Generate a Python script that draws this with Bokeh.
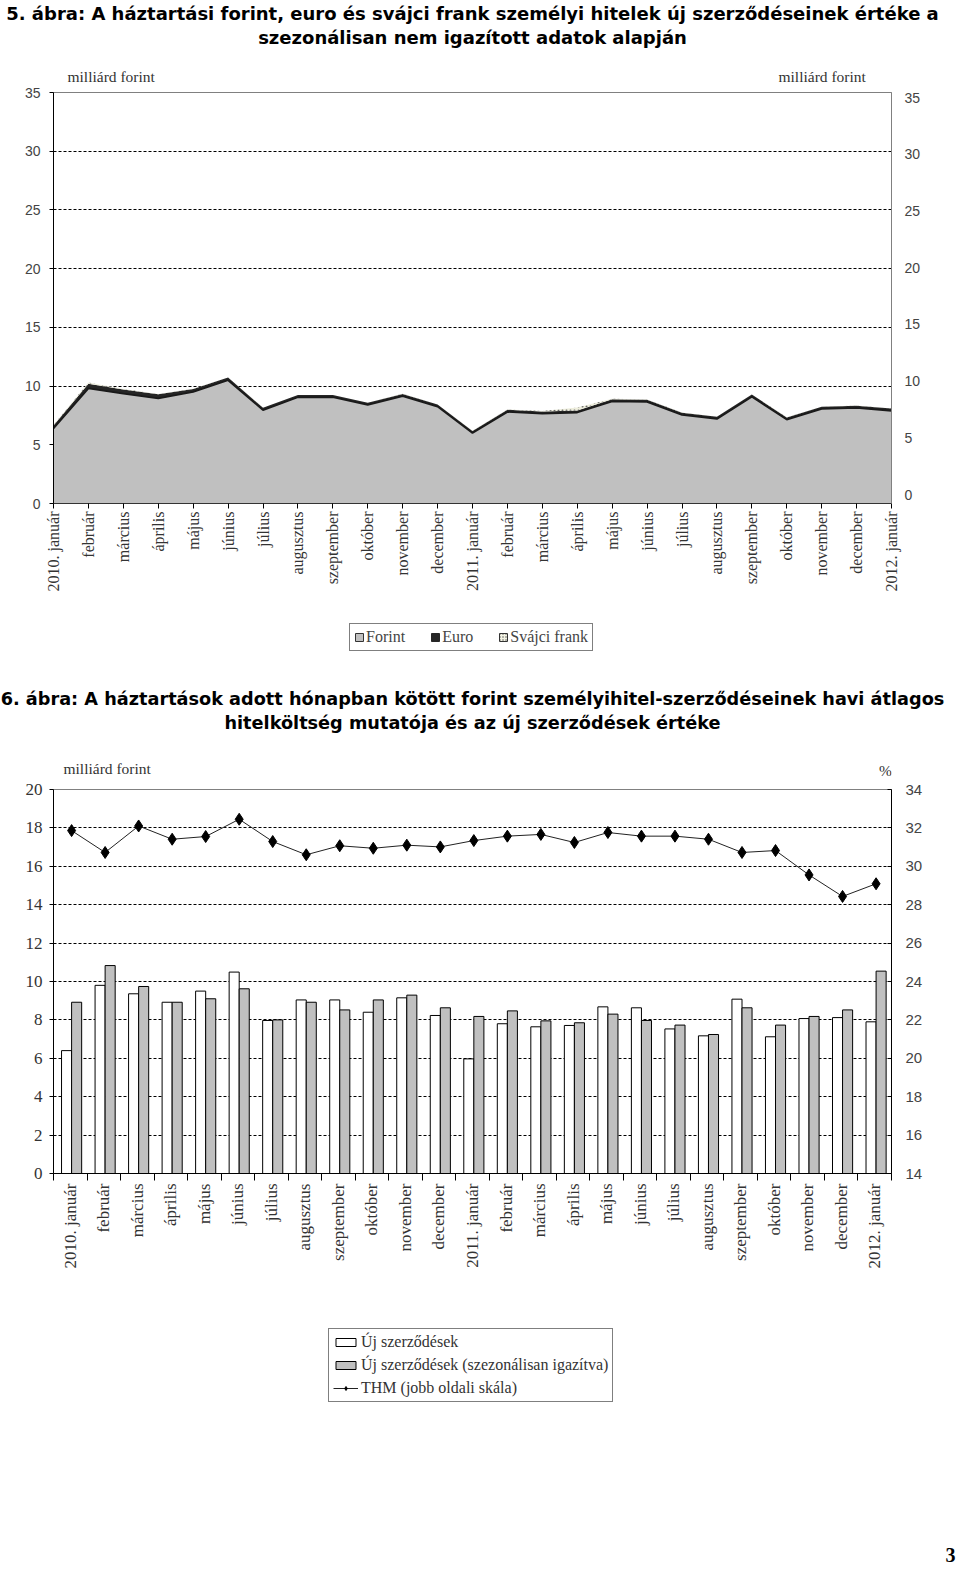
import math
from bokeh.plotting import figure
from bokeh.models import (Range1d, LinearAxis, FixedTicker, Label, Legend,
                          LegendItem, ColumnDataSource, Title)
from bokeh.layouts import column
from bokeh.transform import dodge
from bokeh.embed import file_html
from bokeh.resources import INLINE

# ---------------- data ----------------
months = ["2010. január", "február", "március", "április", "május", "június",
          "július", "augusztus", "szeptember", "október", "november", "december",
          "2011. január", "február", "március", "április", "május", "június",
          "július", "augusztus", "szeptember", "október", "november", "december",
          "2012. január"]

# chart 5 (milliárd forint), stacked
forint = [6.4, 9.8, 9.35, 8.95, 9.5, 10.5, 7.95, 9.05, 9.05, 8.4, 9.15, 8.25,
          6.0, 7.8, 7.65, 7.75, 8.7, 8.65, 7.55, 7.2, 9.1, 7.15, 8.05, 8.15, 7.9]
euro = [0.25, 0.4, 0.35, 0.35, 0.25, 0.22, 0.2, 0.18, 0.18, 0.18, 0.18, 0.18,
        0.18, 0.18, 0.18, 0.18, 0.18, 0.18, 0.18, 0.18, 0.18, 0.18, 0.18, 0.18, 0.18]
chf = [0.03, 0.1, 0.05, 0.03, 0.02, 0.02, 0.01, 0.01, 0.01, 0.01, 0.01, 0.01,
       0.01, 0.02, 0.05, 0.25, 0.05, 0.02, 0.02, 0.01, 0.01, 0.01, 0.01, 0.02, 0.02]

# chart 6
uj = [6.4, 9.8, 9.36, 8.92, 9.5, 10.49, 7.97, 9.04, 9.04, 8.4, 9.15, 8.23,
      5.97, 7.8, 7.64, 7.71, 8.68, 8.63, 7.53, 7.17, 9.08, 7.12, 8.07, 8.12, 7.9]
uj_sa = [8.92, 10.83, 9.74, 8.92, 9.1, 9.62, 8.0, 8.92, 8.52, 9.04, 9.29, 8.63,
         8.18, 8.47, 7.95, 7.85, 8.3, 7.97, 7.73, 7.24, 8.63, 7.73, 8.18, 8.52, 10.54]
thm = [31.86, 30.72, 32.1, 31.41, 31.55, 32.45, 31.29, 30.6, 31.07, 30.94, 31.1, 31.01,
       31.34, 31.57, 31.66, 31.24, 31.76, 31.57, 31.57, 31.41, 30.72, 30.82, 29.55, 28.43, 29.09]

left_ticks1 = [0, 5, 10, 15, 20, 25, 30, 35]
left_ticks2 = [0, 2, 4, 6, 8, 10, 12, 14, 16, 18, 20]
right_ticks2 = [14, 16, 18, 20, 22, 24, 26, 28, 30, 32, 34]

title5 = ["5. ábra: A háztartási forint, euro és svájci frank személyi hitelek új szerződéseinek értéke a",
          "szezonálisan nem igazított adatok alapján"]
title6 = ["6. ábra: A háztartások adott hónapban kötött forint személyihitel-szerződéseinek havi átlagos",
          "hitelköltség mutatója és az új szerződések értéke"]
legend5 = ["Forint", "Euro", "Svájci frank"]
legend6 = ["Új szerződések", "Új szerződések (szezonálisan igazítva)", "THM (jobb oldali skála)"]

x = list(range(len(months)))
overrides = {i: m for i, m in enumerate(months)}

SERIF = "Liberation Serif"
SANS = "Liberation Sans"
TSANS = "DejaVu Sans"
W = 956
BL = 53   # left border (frame left)
BR = 65   # right border

unit_kw = dict(x_units="screen", y_units="screen", text_font=SERIF,
               text_font_size="15.5px", text_baseline="middle", text_color="#333333")


def text_fig(h, top=0, bottom=0):
    f = figure(width=W, height=h, x_range=Range1d(0, 1), y_range=Range1d(0, 1),
               output_backend="svg", toolbar_location=None,
               min_border_left=BL, min_border_right=BR,
               min_border_top=top, min_border_bottom=bottom,
               x_axis_location=None, y_axis_location=None)
    f.grid.visible = False
    f.outline_line_color = None
    return f


def add_titles(f, lines, size, offset=0, standoff=2):
    # first added sits nearest the frame
    for t in reversed(lines):
        f.add_layout(Title(text=t, align="center", offset=offset, text_font=TSANS,
                           text_font_style="bold", text_font_size=size,
                           text_color="black", standoff=standoff), "above")


def style_legend(lg, size):
    lg.border_line_color = "black"
    lg.border_line_width = 1
    lg.background_fill_color = "white"
    lg.background_fill_alpha = 1
    lg.label_text_font = SERIF
    lg.label_text_font_size = size
    lg.inactive_fill_alpha = 0
    lg.margin = 0


# ---------------- header 5 ----------------
h1 = text_fig(84)
add_titles(h1, title5, "18px", standoff=1)
h1.add_layout(Label(x=67 - BL, y=8, text="milliárd forint", text_align="left", **unit_kw))
h1.add_layout(Label(x=778 - BL, y=8, text="milliárd forint", text_align="left", **unit_kw))

# ---------------- chart 5 ----------------
src1 = ColumnDataSource(dict(x=x, forint=forint, euro=euro, chf=chf))
p1 = figure(width=W, height=8 + 411 + 100, x_range=Range1d(0, 24), y_range=Range1d(0, 35),
            output_backend="svg", toolbar_location=None,
            min_border_left=BL, min_border_right=BR, min_border_top=8,
            min_border_bottom=100)
p1.outline_line_color = "#808080"
p1.xgrid.visible = False
p1.ygrid.ticker = FixedTicker(ticks=[5, 10, 15, 20, 25, 30])
p1.ygrid.grid_line_color = "black"
p1.ygrid.grid_line_dash = "3 2"
p1.ygrid.grid_line_width = 1

rs = p1.varea_stack(["forint", "euro", "chf"], x="x", source=src1,
                    fill_color=["#c0c0c0", "#262626", "#eeeedd"])
rs[2].glyph.hatch_pattern = "dot"
rs[2].glyph.hatch_color = "#666666"
rs[2].glyph.hatch_scale = 4
p1.line(x="x", y="forint", source=src1, line_color="#1a1a1a", line_width=1.8)

ax = p1.xaxis[0]
ax.ticker = FixedTicker(ticks=x)
ax.major_label_overrides = overrides
ax.major_label_orientation = math.pi / 2
ax.major_label_text_font = SERIF
ax.major_label_text_font_size = "16px"
ax.major_label_text_color = "#333333"
ax.major_tick_out = 5
ax.major_tick_in = 0
ax.minor_tick_line_color = None
ax.major_label_standoff = 3
ax.axis_line_color = "#333333"

ay = p1.yaxis[0]
ay.ticker = FixedTicker(ticks=left_ticks1)
ay.major_label_text_font = SANS
ay.major_label_text_font_size = "14px"
ay.major_label_text_color = "#444444"
ay.major_tick_out = 4
ay.major_tick_in = 0
ay.minor_tick_line_color = None
ay.major_label_standoff = 9
ay.axis_line_color = "black"

p1.extra_y_ranges = {"r": Range1d(-0.79, 35.45)}
ar = LinearAxis(y_range_name="r", ticker=FixedTicker(ticks=left_ticks1))
ar.major_label_text_font = SANS
ar.major_label_text_font_size = "14px"
ar.major_label_text_color = "#444444"
ar.major_tick_line_color = None
ar.major_tick_out = 0
ar.major_tick_in = 0
ar.minor_tick_line_color = None
ar.major_label_standoff = 13
ar.axis_line_color = "#808080"
p1.add_layout(ar, "right")

# ---------------- legend 5 (hidden key renderers on the same data) ----------------
L1 = text_fig(62)
k1 = L1.vbar(x="x", top="forint", width=0.5, source=src1, fill_color="#c0c0c0",
             line_color="#333333", visible=False)
k2 = L1.vbar(x="x", top="euro", width=0.5, source=src1, fill_color="#262626",
             line_color="#262626", visible=False)
k3 = L1.vbar(x="x", top="chf", width=0.5, source=src1, fill_color="#f4f4e4",
             line_color="#333333", hatch_pattern="dot", hatch_color="#555555",
             hatch_scale=3, visible=False)
leg1 = Legend(items=[LegendItem(label=legend5[0], renderers=[k1]),
                     LegendItem(label=legend5[1], renderers=[k2]),
                     LegendItem(label=legend5[2], renderers=[k3])],
              orientation="horizontal", location=(349 - BL, 14))
style_legend(leg1, "16px")
leg1.label_text_color = "#444444"
leg1.glyph_width = 10
leg1.glyph_height = 10
leg1.label_standoff = 2
leg1.spacing = 25
leg1.padding = 4
L1.add_layout(leg1, "center")

# ---------------- header 6 ----------------
h2 = text_fig(114, top=68)
add_titles(h2, title6, "17.7px", offset=3)
h2.add_layout(Label(x=63 - BL, y=11, text="milliárd forint", text_align="left", **unit_kw))
h2.add_layout(Label(x=885 - BL, y=9, text="%", text_align="center", **unit_kw))

# ---------------- chart 6 ----------------
src2 = ColumnDataSource(dict(x=x, uj=uj, uj_sa=uj_sa, thm=thm))
p2 = figure(width=W, height=10 + 384 + 110, x_range=Range1d(-0.5, 24.5), y_range=Range1d(0, 20),
            output_backend="svg", toolbar_location=None,
            min_border_left=BL, min_border_right=BR, min_border_top=10,
            min_border_bottom=110)
p2.outline_line_color = "#808080"
p2.xgrid.visible = False
p2.ygrid.ticker = FixedTicker(ticks=[2, 4, 6, 8, 10, 12, 14, 16, 18])
p2.ygrid.grid_line_color = "black"
p2.ygrid.grid_line_dash = "3 2"
p2.ygrid.grid_line_width = 1

p2.extra_y_ranges = {"thm": Range1d(14, 34)}

p2.vbar(x=dodge("x", -0.11, range=p2.x_range), top="uj", width=0.3, source=src2,
        fill_color="white", line_color="black", line_width=1)
p2.vbar(x=dodge("x", 0.19, range=p2.x_range), top="uj_sa", width=0.3, source=src2,
        fill_color="#c0c0c0", line_color="black", line_width=1)
p2.line(x=dodge("x", 0.04, range=p2.x_range), y="thm", source=src2,
        y_range_name="thm", line_color="#222222", line_width=1)
p2.scatter(x=dodge("x", 0.04, range=p2.x_range), y="thm", source=src2,
           y_range_name="thm", marker="diamond", size=12,
           fill_color="black", line_color="black")

bx = p2.xaxis[0]
bx.ticker = FixedTicker(ticks=x, minor_ticks=[i - 0.5 for i in range(len(months) + 1)])
bx.major_label_overrides = overrides
bx.major_label_orientation = math.pi / 2
bx.major_label_text_font = SERIF
bx.major_label_text_font_size = "17px"
bx.major_label_text_color = "#333333"
bx.major_tick_out = 0
bx.major_tick_in = 0
bx.minor_tick_out = 7
bx.minor_tick_in = 0
bx.minor_tick_line_color = "black"
bx.major_label_standoff = 3
bx.axis_line_color = "black"

by = p2.yaxis[0]
by.ticker = FixedTicker(ticks=left_ticks2)
by.major_label_text_font = SERIF
by.major_label_text_font_size = "17px"
by.major_label_text_color = "#333333"
by.major_tick_out = 4
by.major_tick_in = 0
by.minor_tick_line_color = None
by.major_label_standoff = 7
by.axis_line_color = "black"

br = LinearAxis(y_range_name="thm", ticker=FixedTicker(ticks=right_ticks2))
br.major_label_text_font = SANS
br.major_label_text_font_size = "15px"
br.major_label_text_color = "#444444"
br.major_tick_in = 4
br.major_tick_out = 0
br.minor_tick_line_color = None
br.major_label_standoff = 14
br.axis_line_color = "black"
p2.add_layout(br, "right")

# ---------------- legend 6 (hidden key renderers on the same data) ----------------
H_L2 = 255
L2_BOTTOM = 1538
L2 = text_fig(H_L2)
q1 = L2.vbar(x="x", top="uj", width=0.3, source=src2, fill_color="white",
             line_color="black", visible=False)
q2 = L2.vbar(x="x", top="uj_sa", width=0.3, source=src2, fill_color="#c0c0c0",
             line_color="black", visible=False)
q3 = L2.line(x="x", y="thm", source=src2, line_color="#222222", line_width=1,
             visible=False)
q4 = L2.scatter(x="x", y="thm", source=src2, marker="diamond", size=11,
                fill_color="black", line_color="black", visible=False)
leg2 = Legend(items=[LegendItem(label=legend6[0], renderers=[q1]),
                     LegendItem(label=legend6[1], renderers=[q2]),
                     LegendItem(label=legend6[2], renderers=[q3, q4])],
              orientation="vertical", location=(328 - BL, L2_BOTTOM - 1402))
style_legend(leg2, "16px")
leg2.label_text_color = "#333333"
leg2.glyph_width = 25
leg2.glyph_height = 10
leg2.label_standoff = 3
leg2.spacing = 5
leg2.padding = 4
L2.add_layout(leg2, "center")

# ---------------- page number ----------------
F3 = text_fig(34, bottom=28)
F3.add_layout(Title(text="3", align="right", offset=-64, text_font=SERIF,
                    text_font_style="bold", text_font_size="20px",
                    text_color="black", standoff=2), "below")

layout = column(h1, p1, L1, h2, p2, L2, F3, spacing=0)
open("out.html", "w").write(file_html(layout, INLINE))
